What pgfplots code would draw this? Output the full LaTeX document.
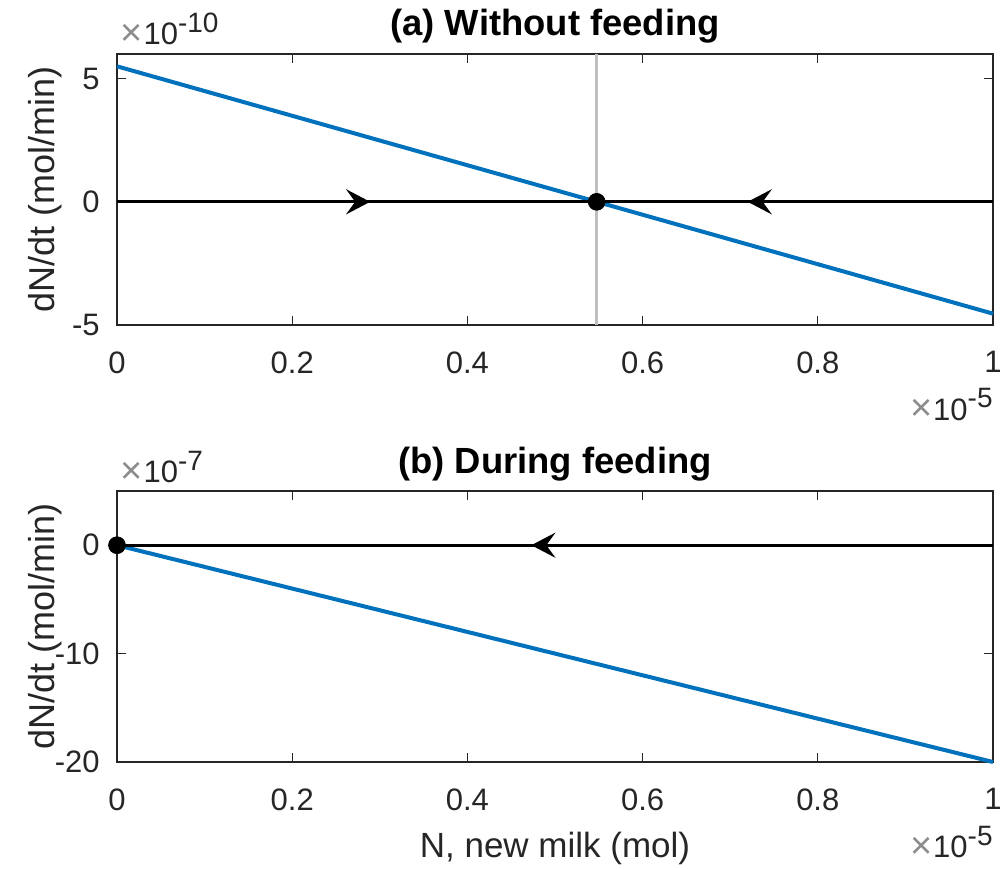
\documentclass[border=0pt]{standalone}
\usepackage{fontspec}
\setmainfont{Liberation Sans}
\usepackage{pgfplots}
\pgfplotsset{compat=1.18}
\usetikzlibrary{arrows.meta}
\definecolor{mblue}{RGB}{0,114,189}
\definecolor{mgray}{gray}{0.15}
\definecolor{lgray}{RGB}{191,191,191}
\pgfplotsset{mstyle/.style={
  width=438pt, height=135.5pt, scale only axis,
  xmin=0, xmax=1,
  xtick={0,0.2,0.4,0.6,0.8,1}, xticklabels={0,0.2,0.4,0.6,0.8,1},
  tick align=inside, major tick length=4.5pt,
  axis line style={mgray, line width=0.6pt},
  tick style={mgray, line width=0.6pt},
  ticklabel style={font=\fontsize{15.5}{18}\selectfont, text=mgray},
  xticklabel style={anchor=north, inner sep=0pt, yshift=-13pt},
  yticklabel style={anchor=east, inner sep=0pt, xshift=-8.5pt},
  ylabel style={font=\fontsize{18}{20}\selectfont, text=mgray, at={(axis description cs:-0.082,0.5)}, anchor=center},
  xlabel style={font=\fontsize{17.5}{20}\selectfont, text=mgray, at={(axis description cs:0.5,0)}, anchor=base, yshift=-47.5pt},
  title style={font=\fontsize{18.2}{20}\selectfont\bfseries, at={(axis description cs:0.5,1)}, anchor=base, yshift=3pt},
  clip=false, scaled ticks=false,
}}
\newcommand{\expo}[1]{\fontsize{15.5}{18}\selectfont\color{mgray}\raisebox{-0.5pt}{\fontsize{19}{19}\selectfont\color{gray!90} ×}\hspace{0.5pt}10\raisebox{6pt}{\fontsize{14}{14}\selectfont #1}}
\begin{document}
\begin{tikzpicture}
\useasboundingbox (-58.5pt,-53.5pt) rectangle (443pt,381pt);
% top axis
\begin{axis}[mstyle, at={(0pt,218.5pt)}, anchor=south west,
  ymin=-5, ymax=6, ytick={-5,0,5}, yticklabels={-5,0,5},
  title={(a) Without feeding}, ylabel={dN/dt (mol/min)}]
\addplot[lgray, line width=1.2pt] coordinates {(0.5476,-5) (0.5476,6)};
\addplot[mblue, line width=2pt] coordinates {(0,5.5) (1,-4.54)};
\addplot[black, line width=1.5pt] coordinates {(0,0) (1,0)};
\addplot[black, line width=1.5pt, -{Stealth[length=12pt,width=12.5pt,inset=4.5pt]}] coordinates {(0.24,0) (0.289,0)};
\addplot[black, line width=1.5pt, -{Stealth[length=12pt,width=12.5pt,inset=4.5pt]}] coordinates {(0.77,0) (0.720,0)};
\addplot[black, only marks, mark=*, mark size=4.2pt] coordinates {(0.5476,0)};
\node[anchor=base west, inner sep=0pt] at ([xshift=1.5pt,yshift=4.5pt]axis description cs:0,1) {\expo{-10}};
\node[anchor=base east, inner sep=0pt] at ([xshift=0pt,yshift=-47.5pt]axis description cs:1,0) {\expo{-5}};
\end{axis}
% bottom axis
\begin{axis}[mstyle, at={(0pt,0pt)}, anchor=south west,
  ymin=-20, ymax=5, ytick={-20,-10,0}, yticklabels={-20,-10,0},
  title={(b) During feeding}, ylabel={dN/dt (mol/min)}, xlabel={N, new milk (mol)}]
\addplot[mblue, line width=2pt] coordinates {(0,0) (1,-20)};
\addplot[black, line width=1.5pt] coordinates {(0,0) (1,0)};
\addplot[black, line width=1.5pt, -{Stealth[length=12pt,width=12.5pt,inset=4.5pt]}] coordinates {(0.52,0) (0.473,0)};
\addplot[black, only marks, mark=*, mark size=4.2pt] coordinates {(0,0)};
\node[anchor=base west, inner sep=0pt] at ([xshift=1.5pt,yshift=4.5pt]axis description cs:0,1) {\expo{-7}};
\node[anchor=base east, inner sep=0pt] at ([xshift=0pt,yshift=-47.5pt]axis description cs:1,0) {\expo{-5}};
\end{axis}
\end{tikzpicture}
\end{document}
